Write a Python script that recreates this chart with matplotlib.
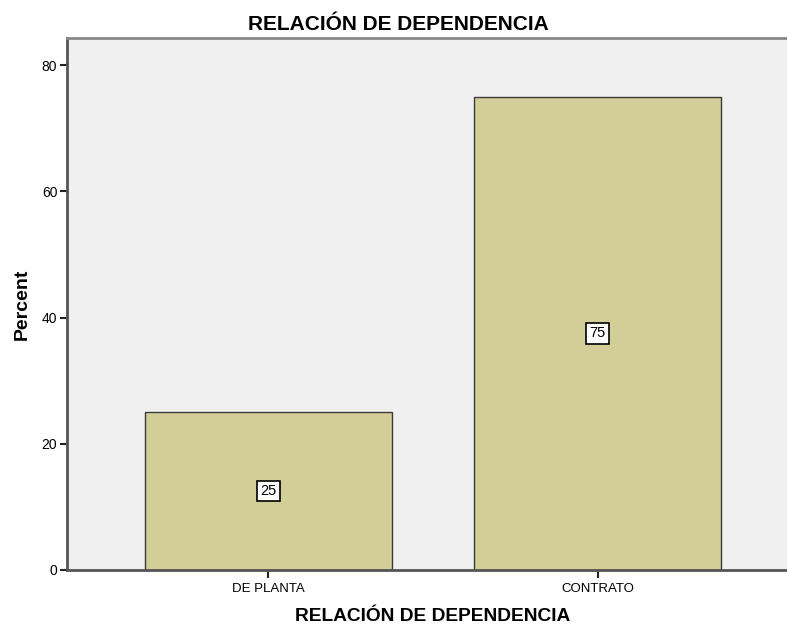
import matplotlib.pyplot as plt

# categories and percentages
categories = ['DE PLANTA', 'CONTRATO']
percent = [25, 75]
y_ticks = [0, 20, 40, 60, 80]

plt.rcParams['font.family'] = ['Liberation Sans', 'DejaVu Sans']

fig = plt.figure(figsize=(7.87, 6.28), dpi=100)
# the plot frame runs a little past the right edge of the image, as in the original
ax = fig.add_axes([0.0851, 0.0924, 0.930, 0.8471])
ax.set_facecolor('#F0F0F0')

x = list(range(len(categories)))
ax.bar(x, percent, width=0.75, color='#D3CE98', edgecolor='#3c3c3c', linewidth=1.0, zorder=2)

# value labels in the middle of each bar
for xi, v in zip(x, percent):
    ax.text(xi, v / 2, str(v), ha='center', va='center', fontsize=10.5, zorder=3,
            bbox=dict(boxstyle='square,pad=0.22', facecolor='white', edgecolor='black', linewidth=1.2))

ax.set_xlim(-0.611, 1.611)
ax.set_ylim(0, 84.3)
ax.set_xticks(x)
ax.set_xticklabels(categories, fontsize=9.5)
ax.set_yticks(y_ticks)
ax.tick_params(axis='y', labelsize=10, length=5, width=1.5, color='#222222', pad=2)
ax.tick_params(axis='x', length=6, width=1.5, color='#222222')

for side in ['left', 'bottom']:
    ax.spines[side].set_color('#555555')
    ax.spines[side].set_linewidth(2)
ax.spines['top'].set_color('#888888')
ax.spines['top'].set_linewidth(2)
ax.spines['right'].set_visible(False)

# title is centred on the whole figure
fig.text(0.506, 0.952, 'RELACIÓN DE DEPENDENCIA', ha='center', va='baseline',
         fontsize=15, fontweight='bold')
ax.set_xlabel('RELACIÓN DE DEPENDENCIA', fontsize=13.8, fontweight='bold', labelpad=9)
ax.set_ylabel('Percent', fontsize=14, fontweight='bold', labelpad=8)

fig.savefig('out.png', dpi=100)
